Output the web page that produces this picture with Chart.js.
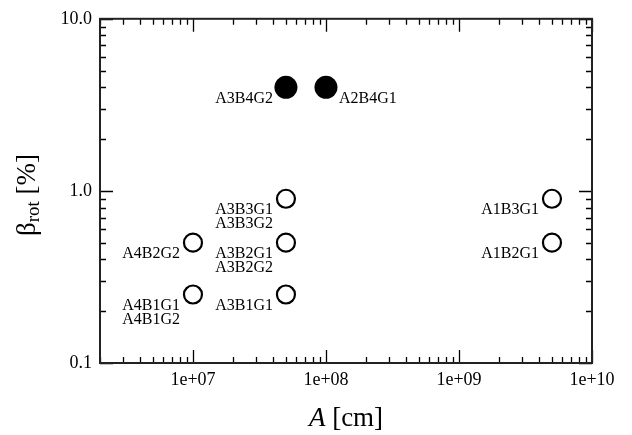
<!DOCTYPE html>
<html>
<head>
<meta charset="utf-8">
<script src="https://cdn.jsdelivr.net/npm/chart.js@4"></script>
<style>
html,body{margin:0;padding:0;background:#fff;}
#wrap{width:632px;height:435px;position:relative;}
</style>
</head>
<body>
<div id="wrap"><canvas id="c"></canvas></div>
<script>
// ---- data ----
const filledA = [5e7, 1e8];
const filledBeta = [4.0, 4.0];
const filledNames = [["A3B4G2"], ["A2B4G1"]];

const openA = [5e7, 5e7, 5e7, 1e7, 1e7, 5e9, 5e9];
const openBeta = [0.9, 0.5, 0.25, 0.5, 0.25, 0.9, 0.5];
const openNames = [["A3B3G1","A3B3G2"], ["A3B2G1","A3B2G2"], ["A3B1G1"], ["A4B2G2"], ["A4B1G1","A4B1G2"], ["A1B3G1"], ["A1B2G1"]];

const xTickValues = [1e7, 1e8, 1e9, 1e10];
const xTickLabels = ["1e+07", "1e+08", "1e+09", "1e+10"];
const yTickValues = [0.1, 1, 10];
const yTickLabels = ["0.1", "1.0", "10.0"];

const xRange = [2e6, 1e10];
const yRange = [0.1, 10];

const rightSideLabels = new Set(["A2B4G1"]);

const SERIF = "'Liberation Serif', 'Times New Roman', serif";
const INK = "#000";

function toPts(xs, ys){ return xs.map((x,i)=>({x:x, y:ys[i]})); }

const decorPlugin = {
  id: 'decor',
  afterDatasetsDraw(chart){
    const ctx = chart.ctx;
    const a = chart.chartArea;
    const xs = chart.scales.x, ys = chart.scales.y;
    ctx.save();
    // minor / major inward ticks on all four sides
    ctx.strokeStyle = INK;
    ctx.lineWidth = 1.3;
    ctx.beginPath();
    for (let e = 6; e <= 10; e++) {
      for (let m = 1; m <= 9; m++) {
        const v = m * Math.pow(10, e);
        if (v < xs.min * 0.999 || v > xs.max * 1.001) continue;
        const p = Math.round(xs.getPixelForValue(v)) + 0.5;
        const L = (m === 1) ? 13 : 6;
        ctx.moveTo(p, a.bottom); ctx.lineTo(p, a.bottom - L);
        ctx.moveTo(p, a.top); ctx.lineTo(p, a.top + L);
      }
    }
    for (let e = -1; e <= 1; e++) {
      for (let m = 1; m <= 9; m++) {
        const v = m * Math.pow(10, e);
        if (v < ys.min * 0.999 || v > ys.max * 1.001) continue;
        const p = Math.round(ys.getPixelForValue(v)) + 0.5;
        const L = (m === 1) ? 13 : 6;
        ctx.moveTo(a.left, p); ctx.lineTo(a.left + L, p);
        ctx.moveTo(a.right, p); ctx.lineTo(a.right - L, p);
      }
    }
    ctx.stroke();
    // frame
    ctx.lineWidth = 2;
    ctx.strokeStyle = "#222";
    ctx.strokeRect(a.left, a.top, a.right - a.left, a.bottom - a.top);

    // point labels
    ctx.fillStyle = INK;
    ctx.font = "16px " + SERIF;
    ctx.textBaseline = "alphabetic";
    chart.data.datasets.forEach((ds, di) => {
      const meta = chart.getDatasetMeta(di);
      meta.data.forEach((el, i) => {
        const names = ds.names[i];
        const right = rightSideLabels.has(names[0]);
        ctx.textAlign = right ? "left" : "right";
        const tx = right ? el.x + 13 : el.x - 13;
        names.forEach((n, k) => ctx.fillText(n, tx, el.y + 15.5 + k * 14));
      });
    });

    // x title: italic A [cm]
    const cx = (a.left + a.right) / 2;
    const by = 426;
    ctx.font = "italic 27px " + SERIF;
    const wA = ctx.measureText("A").width;
    ctx.font = "27px " + SERIF;
    const wRest = ctx.measureText(" [cm]").width;
    let sx = cx - (wA + wRest) / 2;
    ctx.textAlign = "left";
    ctx.font = "italic 27px " + SERIF;
    ctx.fillText("A", sx, by);
    ctx.font = "27px " + SERIF;
    ctx.fillText(" [cm]", sx + wA, by);

    // y title: β_rot [%]
    ctx.save();
    ctx.translate(35, 195);
    ctx.rotate(-Math.PI / 2);
    ctx.font = "27px " + SERIF;
    const wB = ctx.measureText("\u03B2").width;
    const wP = ctx.measureText(" [%]").width;
    ctx.font = "19px " + SERIF;
    const wS = ctx.measureText("rot").width;
    let tx0 = -(wB + wS + wP) / 2;
    ctx.textAlign = "left";
    ctx.font = "27px " + SERIF;
    ctx.fillText("\u03B2", tx0, 0);
    ctx.font = "19px " + SERIF;
    ctx.fillText("rot", tx0 + wB, 4);
    ctx.font = "27px " + SERIF;
    ctx.fillText(" [%]", tx0 + wB + wS, 0);
    ctx.restore();

    ctx.restore();
  }
};

new Chart(document.getElementById('c'), {
  type: 'scatter',
  data: {
    datasets: [
      {
        label: 'filled',
        data: toPts(filledA, filledBeta),
        names: filledNames,
        pointStyle: 'circle',
        pointRadius: 11.5,
        pointHoverRadius: 11.5,
        pointBorderWidth: 0,
        backgroundColor: INK,
        borderColor: INK
      },
      {
        label: 'open',
        data: toPts(openA, openBeta),
        names: openNames,
        pointStyle: 'circle',
        pointRadius: 9,
        pointHoverRadius: 9,
        pointBorderWidth: 2.2,
        backgroundColor: '#fff',
        borderColor: INK
      }
    ]
  },
  options: {
    responsive: true,
    maintainAspectRatio: false,
    animation: false,
    events: [],
    layout: { padding: { top: 13, right: 40, left: 0, bottom: 0 } },
    plugins: { legend: { display: false }, tooltip: { enabled: false } },
    scales: {
      x: {
        type: 'logarithmic',
        min: xRange[0], max: xRange[1],
        grid: { display: false, drawTicks: false },
        border: { display: false },
        afterBuildTicks: s => { s.ticks = xTickValues.map(v => ({ value: v })); },
        afterFit: s => { s.height = 72; },
        ticks: {
          autoSkip: false, maxRotation: 0, padding: 6, color: INK,
          font: { family: SERIF, size: 18 },
          callback: (v) => { const i = xTickValues.findIndex(t => Math.abs(t - v) / t < 1e-6); return i >= 0 ? xTickLabels[i] : ''; }
        }
      },
      y: {
        type: 'logarithmic',
        min: yRange[0], max: yRange[1],
        grid: { display: false, drawTicks: false },
        border: { display: false },
        afterBuildTicks: s => { s.ticks = yTickValues.map(v => ({ value: v })); },
        afterFit: s => { s.width = 100; },
        ticks: {
          autoSkip: false, padding: 8, color: INK,
          font: { family: SERIF, size: 18 },
          callback: (v) => { const i = yTickValues.findIndex(t => Math.abs(t - v) / t < 1e-6); return i >= 0 ? yTickLabels[i] : ''; }
        }
      }
    }
  },
  plugins: [decorPlugin]
});
</script>
</body>
</html>
